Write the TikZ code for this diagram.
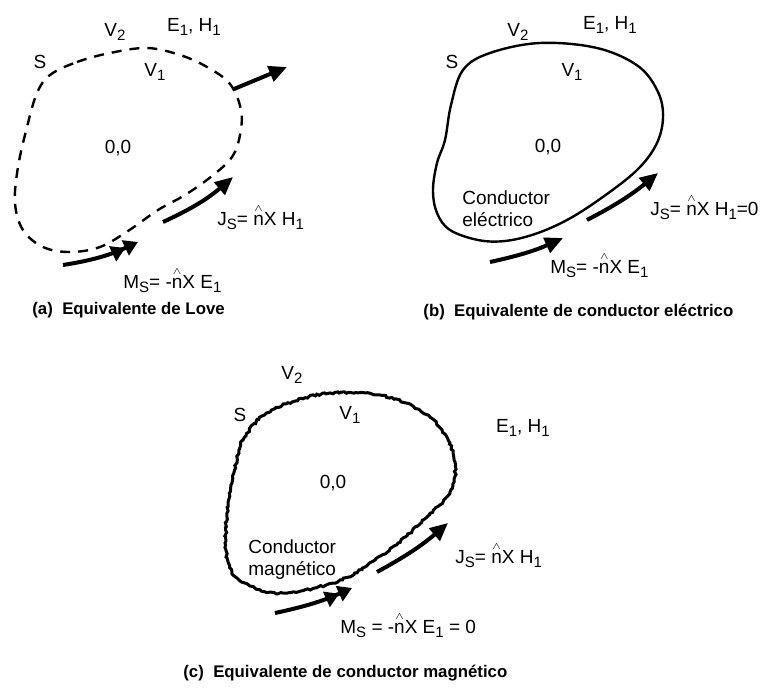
\documentclass[tikz,border=0pt]{standalone}
\usepackage{fontspec}
\setmainfont{Liberation Sans}
\usepackage{amsmath}
\usetikzlibrary{arrows.meta, decorations.pathmorphing}

\newcommand{\ind}[1]{\raisebox{-0.45ex}{\fontsize{7.5}{8}\selectfont #1}}
\newcommand{\nhat}{$\overset{\scriptscriptstyle\wedge}{\text{n}}$}

\begin{document}
\begin{tikzpicture}[x=0.5pt, y=-0.5pt,
    rotulo/.style={font=\fontsize{9.5}{11}\selectfont, inner sep=0pt},
    legenda/.style={font=\fontsize{8.4}{10}\selectfont\bfseries, inner sep=0pt, anchor=west},
    fluxo/.style={line width=2pt, -{Triangle[length=9pt, width=8pt]}},
    fluxodup/.style={line width=2pt, -{Triangle[length=7pt, width=8pt] Triangle[length=7pt, width=8pt]}},
    superficie/.style={line width=1.2pt}]

    \useasboundingbox (0,0) rectangle (760,690);

    % (a) Equivalente de Love
    \draw[superficie, dash pattern=on 5pt off 4pt] plot[smooth cycle, tension=0.6] coordinates {
        (50,75) (77,62) (110,53) (147,48) (180,55) (207,67) (230,84) (241,110) (240,135)
        (232,157) (212,176) (185,195) (158,210) (128,231) (100,247)
        (70,252) (43,247) (23,230) (15,203) (18,167) (27,127) (37,93)};
    \node[rotulo] (sa) at (40,62) {S};
    \node[rotulo] (va2) at (115,32) {V\ind{2}};
    \node[rotulo] (campoa) at (194,27) {E\ind{1}, H\ind{1}};
    \node[rotulo] (va1) at (155,72) {V\ind{1}};
    \node[rotulo] (origema) at (118,148) {0,0};
    \node[rotulo, anchor=west] (jsa) at (217,217) {J\ind{S}= \nhat X H\ind{1}};
    \node[rotulo, anchor=west] (msa) at (123,280) {M\ind{S}= -\nhat X E\ind{1}};
    \node[legenda] (lega) at (32,310) {(a)\ \ Equivalente de Love};

    \coordinate (na0) at (234,89);  \coordinate (na1) at (287,67);
    \coordinate (ja0) at (163,222); \coordinate (ja1) at (233,177);
    \coordinate (ma0) at (63,265);  \coordinate (ma1) at (138,242);
    \draw[fluxo] (na0) -- (na1);
    \draw[fluxo] (ja0) to[bend right=8] (ja1);
    \draw[fluxodup] (ma0) to[bend right=8] (ma1);

    % (b) Equivalente de conductor electrico
    \draw[superficie] plot[smooth cycle, tension=0.6] coordinates {
        (463,70) (490,53) (540,43) (597,48) (638,66) (658,92) (663,118) (656,145)
        (636,171) (600,199) (567,220) (535,234) (505,241) (478,240) (450,230) (437,213)
        (433,190) (437,163) (445,140) (451,105)};
    \node[rotulo] (sb) at (452,62) {S};
    \node[rotulo] (vb2) at (518,32) {V\ind{2}};
    \node[rotulo] (campob) at (610,25) {E\ind{1}, H\ind{1}};
    \node[rotulo] (vb1) at (572,72) {V\ind{1}};
    \node[rotulo] (origemb) at (548,147) {0,0};
    \node[rotulo, align=left, anchor=west] (condb) at (462,209) {Conductor\\eléctrico};
    \node[rotulo, anchor=west] (jsb) at (650,207) {J\ind{S}= \nhat X H\ind{1}=0};
    \node[rotulo, anchor=west] (msb) at (550,265) {M\ind{S}= -\nhat X E\ind{1}};
    \node[legenda] (legb) at (423,312) {(b)\ \ Equivalente de conductor eléctrico};

    \coordinate (jb0) at (587,220); \coordinate (jb1) at (658,173);
    \coordinate (mb0) at (490,262); \coordinate (mb1) at (563,238);
    \draw[fluxo] (jb0) to[bend right=6] (jb1);
    \draw[fluxo] (mb0) to[bend right=6] (mb1);

    % (c) Equivalente de conductor magnetico
    \draw[superficie, line width=1.5pt, decorate, decoration={random steps, segment length=1.2pt, amplitude=0.5pt}]
        plot[smooth cycle, tension=0.6] coordinates {
        (243,440) (262,416) (292,402) (330,393) (380,395) (418,409) (442,430) (455,462)
        (450,492) (428,516) (398,543) (365,567) (333,583) (283,593) (250,586) (232,572)
        (226,550) (227,513) (231,485) (238,455)};
    \node[rotulo] (sc) at (240,415) {S};
    \node[rotulo] (vc2) at (292,375) {V\ind{2}};
    \node[rotulo] (campoc) at (523,428) {E\ind{1}, H\ind{1}};
    \node[rotulo] (vc1) at (350,415) {V\ind{1}};
    \node[rotulo] (origemc) at (333,483) {0,0};
    \node[rotulo, align=left, anchor=west] (condc) at (248,560) {Conductor\\magnético};
    \node[rotulo, anchor=west] (jsc) at (455,555) {J\ind{S}= \nhat X H\ind{1}};
    \node[rotulo, anchor=west] (msc) at (340,625) {M\ind{S} = -\nhat X E\ind{1} = 0};
    \node[legenda] (legc) at (183,673) {(c)\ \ Equivalente de conductor magnético};

    \coordinate (jc0) at (377,572); \coordinate (jc1) at (448,523);
    \coordinate (mc0) at (275,613); \coordinate (mc1) at (352,588);
    \draw[fluxo] (jc0) to[bend right=6] (jc1);
    \draw[fluxodup] (mc0) to[bend right=6] (mc1);

\end{tikzpicture}
\end{document}
